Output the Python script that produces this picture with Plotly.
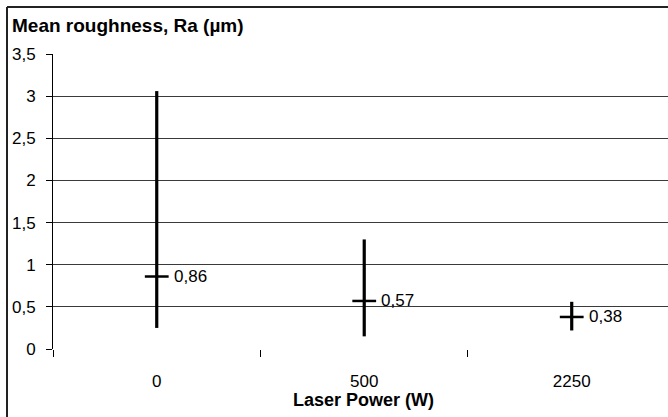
import plotly.graph_objects as go

# Data
categories = ["0", "500", "2250"]
mean_ra = [0.86, 0.57, 0.38]
high_ra = [3.06, 1.30, 0.56]
low_ra = [0.25, 0.15, 0.22]
y_ticks = [0, 0.5, 1, 1.5, 2, 2.5, 3, 3.5]

FONT = "Arial, 'Liberation Sans', sans-serif"

err_plus = [h - m for h, m in zip(high_ra, mean_ra)]
err_minus = [m - l for m, l in zip(mean_ra, low_ra)]
labels = [f"{v:.2f}".replace(".", ",") for v in mean_ra]

fig = go.Figure()
fig.add_trace(go.Scatter(
    x=categories, y=mean_ra, mode="markers",
    marker=dict(symbol="line-ew", size=17, color="black",
                line=dict(color="black", width=2.5)),
    error_y=dict(type="data", symmetric=False, array=err_plus,
                 arrayminus=err_minus, width=0, thickness=3.2, color="black"),
    showlegend=False, hoverinfo="skip",
))

for i, (m, t) in enumerate(zip(mean_ra, labels)):
    fig.add_annotation(x=i, y=m, xref="x", yref="y", text=t, showarrow=False,
                       xanchor="left", yanchor="middle", xshift=15,
                       font=dict(family=FONT, size=17, color="black"))

# axis title
fig.add_annotation(x=(363 - 53) / 615, y=-(400 - 349) / 295, xref="paper", yref="paper",
                   text="<b>Laser Power (W)</b>", showarrow=False,
                   xanchor="center", yanchor="middle",
                   font=dict(family=FONT, size=18, color="black"))

# chart frame (top and left edges visible in the crop)
fx = (7 - 53) / 615
fy = 1 + (54 - 7) / 295
fig.add_shape(type="line", xref="paper", yref="paper", x0=fx, x1=fx, y0=fy, y1=-0.3,
              line=dict(color="#222", width=2))
fig.add_shape(type="line", xref="paper", yref="paper", x0=fx, x1=1.1, y0=fy, y1=fy,
              line=dict(color="#222", width=2))

fig.update_layout(
    width=668, height=417,
    margin=dict(l=53, r=0, t=54, b=68, pad=0),
    paper_bgcolor="white", plot_bgcolor="white",
    separators=", ",
    font=dict(family=FONT, size=17, color="black"),
    title=dict(text="<b>Mean roughness, Ra (µm)</b>", x=12 / 668, xanchor="left",
               xref="container", y=1 - 25 / 417, yanchor="middle", yref="container",
               font=dict(family=FONT, size=19, color="black")),
    xaxis=dict(type="category", categoryorder="array", categoryarray=categories,
               range=[-0.5, 2.464], tickson="boundaries", ticks="outside", ticklen=7,
               tickcolor="black", showgrid=False, showline=False, zeroline=False,
               tickfont=dict(family=FONT, size=17), ticklabelstandoff=20),
    yaxis=dict(range=[0, 3.5], tickvals=y_ticks, ticks="outside", ticklen=6,
               tickcolor="black", showgrid=True, gridcolor="#3a3a3a", gridwidth=1.2,
               showline=True, linecolor="black", linewidth=1, zeroline=False,
               tickfont=dict(family=FONT, size=17), ticklabelstandoff=7),
)

fig.write_html("out.html", config={"displayModeBar": False},
               post_script="document.body.style.margin='0';document.body.style.overflow='hidden';")
